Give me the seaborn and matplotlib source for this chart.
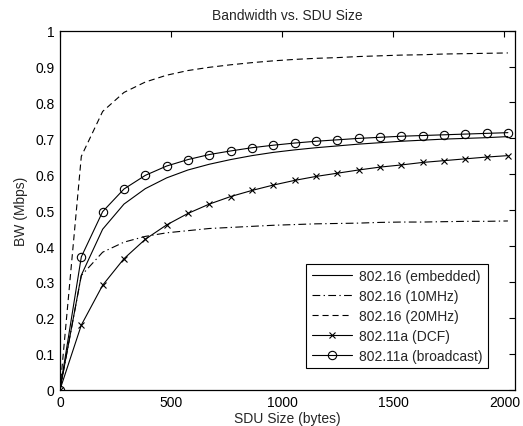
import matplotlib
matplotlib.use("Agg")
import matplotlib.pyplot as plt
import seaborn as sns
import pandas as pd

# SDU sizes (bytes) at which bandwidth was evaluated
sdu_size = [0, 96, 192, 288, 384, 480, 576, 672, 768, 864, 960, 1056,
            1152, 1248, 1344, 1440, 1536, 1632, 1728, 1824, 1920, 2016]

# Bandwidth (Mbps) per configuration
bw_embedded = [0, 0.319, 0.447, 0.517, 0.560, 0.590, 0.612, 0.628, 0.641,
               0.652, 0.661, 0.668, 0.674, 0.679, 0.684, 0.688, 0.692,
               0.695, 0.698, 0.700, 0.702, 0.705]
bw_10mhz = [0, 0.318, 0.383, 0.411, 0.427, 0.437, 0.443, 0.449, 0.452,
            0.455, 0.458, 0.460, 0.462, 0.463, 0.464, 0.466, 0.467,
            0.467, 0.468, 0.469, 0.469, 0.470]
bw_20mhz = [0, 0.650, 0.775, 0.828, 0.857, 0.876, 0.889, 0.898, 0.905,
            0.911, 0.916, 0.920, 0.923, 0.925, 0.928, 0.930, 0.932,
            0.933, 0.935, 0.936, 0.937, 0.938]
bw_dcf = [0, 0.180, 0.291, 0.365, 0.419, 0.459, 0.491, 0.517, 0.538,
          0.555, 0.570, 0.583, 0.594, 0.603, 0.612, 0.620, 0.626,
          0.633, 0.638, 0.643, 0.648, 0.652]
bw_broadcast = [0, 0.370, 0.496, 0.559, 0.597, 0.623, 0.641, 0.655, 0.665,
                0.674, 0.681, 0.687, 0.692, 0.696, 0.700, 0.703, 0.706,
                0.708, 0.710, 0.712, 0.714, 0.716]

series_names = ["802.16 (embedded)", "802.16 (10MHz)", "802.16 (20MHz)",
                "802.11a (DCF)", "802.11a (broadcast)"]

x_ticks = [0, 500, 1000, 1500, 2000]
y_ticks = [0, 0.1, 0.2, 0.3, 0.4, 0.5, 0.6, 0.7, 0.8, 0.9, 1]
y_tick_labels = ["0", "0.1", "0.2", "0.3", "0.4", "0.5", "0.6", "0.7",
                 "0.8", "0.9", "1"]

sns.set_style("white")
plt.rcParams["font.family"] = ["Liberation Sans", "DejaVu Sans"]

frames = []
for name, vals in zip(series_names,
                      [bw_embedded, bw_10mhz, bw_20mhz, bw_dcf, bw_broadcast]):
    frames.append(pd.DataFrame({"sdu": sdu_size, "bw": vals, "series": name}))
df = pd.concat(frames, ignore_index=True)

styles = {
    "802.16 (embedded)": dict(linestyle="-"),
    "802.16 (10MHz)": dict(linestyle=(0, (7, 3, 1.2, 3))),
    "802.16 (20MHz)": dict(linestyle=(0, (5.5, 3.5))),
    "802.11a (DCF)": dict(linestyle="-", marker="x", markersize=4.5,
                          markeredgewidth=0.8, markeredgecolor="black"),
    "802.11a (broadcast)": dict(linestyle="-", marker="o", markersize=6,
                                markerfacecolor="none", markeredgewidth=0.8,
                                markeredgecolor="black"),
}

fs = 10

fig = plt.figure(figsize=(5.23, 4.27), dpi=100)
ax = fig.add_axes([0.1147, 0.085, 0.870, 0.8408])

for name in series_names:
    sub = df[df["series"] == name]
    sns.lineplot(data=sub, x="sdu", y="bw", ax=ax, color="black",
                 linewidth=0.8, label=name, **styles[name])

ax.set_xlim(0, 2048)
ax.set_ylim(0, 1)
ax.set_xticks(x_ticks)
ax.set_xticklabels([str(t) for t in x_ticks])
ax.set_yticks(y_ticks)
ax.set_yticklabels(y_tick_labels)
ax.tick_params(direction="in", length=4, width=0.8, top=True, right=True,
               labelsize=fs, colors="black", pad=4)
for sp in ax.spines.values():
    sp.set_visible(True)
    sp.set_color("black")
    sp.set_linewidth(0.9)

ax.set_title("Bandwidth vs. SDU Size", fontsize=fs, pad=8.5)
ax.set_xlabel("SDU Size (bytes)", fontsize=fs, labelpad=1)
ax.set_ylabel("BW (Mbps)", fontsize=fs, labelpad=5)

leg = ax.legend(loc="lower right", bbox_to_anchor=(0.941, 0.060),
                fontsize=fs, frameon=True, fancybox=False, framealpha=1,
                edgecolor="black", handlelength=2.9, handletextpad=0.5,
                labelspacing=0.42, borderpad=0.4, borderaxespad=0)
leg.get_frame().set_linewidth(0.8)

fig.savefig("out.png", dpi=100)
